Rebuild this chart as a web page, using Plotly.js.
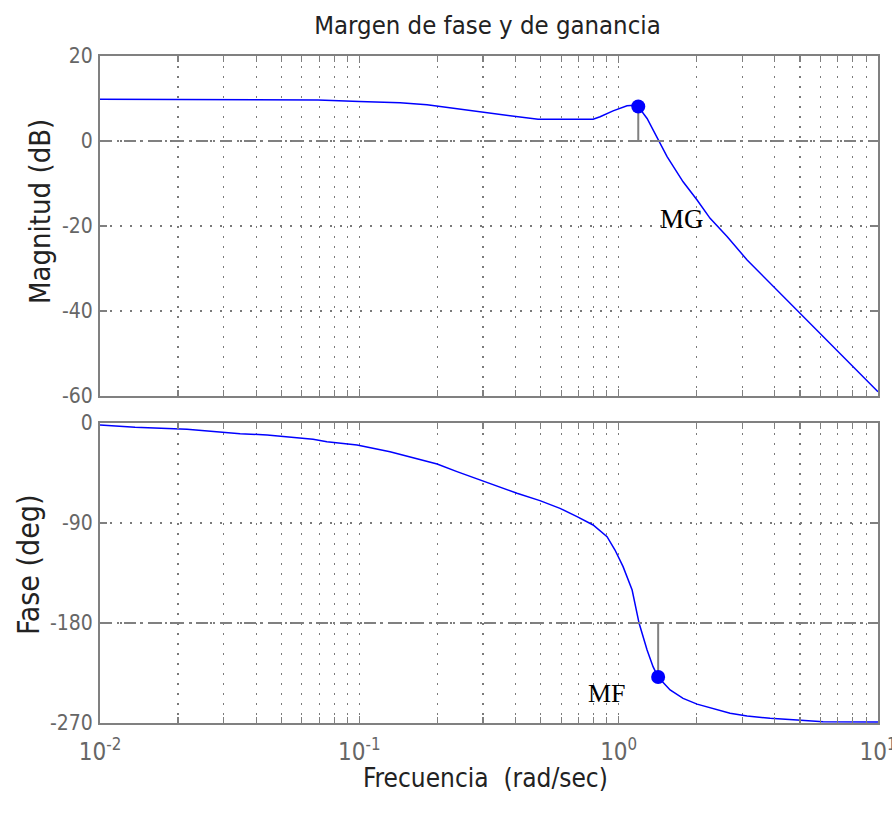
<!DOCTYPE html>
<html>
<head>
<meta charset="utf-8">
<script src="https://cdn.plot.ly/plotly-3.0.1.min.js"></script>
<style>html,body{margin:0;padding:0;background:#fff;}#plot{width:892px;height:816px;}</style>
</head>
<body>
<div id="plot"></div>
<script>
// ---- Data ----
const freqMag = [0.01, 0.04, 0.0693, 0.1, 0.1436, 0.1824, 0.218, 0.2445, 0.292, 0.3487, 0.3915, 0.4432, 0.489, 0.797, 0.848, 0.9515, 1.077, 1.15, 1.19, 1.287, 1.406, 1.537, 1.772, 2.006, 2.252, 2.618, 3.128, 5.008, 10];
const magDb   = [9.8, 9.75, 9.65, 9.3, 9.0, 8.5, 7.9, 7.45, 6.95, 6.35, 6.0, 5.6, 5.1, 5.1, 5.7, 7.1, 8.3, 8.4, 8.1, 5.3, 1.0, -3.7, -9.6, -13.9, -18.2, -22.5, -28, -40.5, -59];

const freqPh = [0.01, 0.01365, 0.02165, 0.0278, 0.0347, 0.0441, 0.0555, 0.0663, 0.075, 0.0843, 0.098, 0.1313, 0.176, 0.1995, 0.238, 0.292, 0.4055, 0.497, 0.594, 0.691, 0.797, 0.902, 0.968, 1.04, 1.127, 1.199, 1.287, 1.357, 1.419, 1.579, 1.772, 2.006, 2.312, 2.689, 3.128, 3.836, 4.875, 6.14, 10];
const phaseDeg = [-1.8, -3.9, -5.7, -7.8, -9.6, -10.8, -12.9, -14.7, -16.8, -18.3, -19.8, -25.8, -33.3, -36.9, -43.8, -51.3, -63.3, -69.9, -76.8, -84.3, -91.8, -102.3, -114.3, -129.3, -150.3, -180.3, -204.3, -219.3, -228.6, -240.3, -247.8, -253, -257, -261.3, -263.7, -265.8, -267.3, -268.8, -269];

const mgPoint = {freq: 1.19, mag: 8.1, ref: 0};
const mfPoint = {freq: 1.42, phase: -228.6, ref: -180};

const magTicks = [-60, -40, -20, 0, 20];
const magTickLabels = ['-60', '-40', '-20', '0', '20'];
const phaseTicks = [-270, -180, -90, 0];
const phaseTickLabels = ['-270', '-180', '-90', '0'];
const decades = [0.01, 0.1, 1, 10];
const decadeLabels = ['10<sup>-2</sup>', '10<sup>-1</sup>', '10<sup>0</sup>', '10<sup>1</sup>'];

const titleText = 'Margen de fase y de ganancia';
const magTitle = 'Magnitud (dB)';
const phaseTitle = 'Fase (deg)';
const freqTitle = 'Frecuencia\u00a0 (rad/sec)';
const mgLabel = {text: 'MG', freq: 1.756, mag: -18.3};
const mfLabel = {text: 'MF', freq: 0.902, phase: -243.9};

// ---- Minor log positions (2..9 of each decade) ----
const minorVals = [];
decades.slice(0, -1).forEach(d => { for (let k = 2; k <= 9; k++) minorVals.push(d * k); });

const FONT = '"DejaVu Sans Condensed", "Liberation Sans", sans-serif';
const GRAY = '#808080';
const GRIDC = '#7a7a7a';
const GRIDDASH = '2px,8px';
const BLUE = '#0000ff';

const traces = [
  {x: freqMag, y: magDb, xaxis: 'x', yaxis: 'y', mode: 'lines', line: {color: BLUE, width: 1.5}},
  {x: [mgPoint.freq, mgPoint.freq], y: [mgPoint.ref, mgPoint.mag], xaxis: 'x', yaxis: 'y', mode: 'lines', line: {color: GRAY, width: 2}},
  {x: [mgPoint.freq], y: [mgPoint.mag], xaxis: 'x', yaxis: 'y', mode: 'markers', marker: {color: BLUE, size: 14}},
  {x: freqPh, y: phaseDeg, xaxis: 'x2', yaxis: 'y2', mode: 'lines', line: {color: BLUE, width: 1.5}},
  {x: [mfPoint.freq, mfPoint.freq], y: [mfPoint.ref, mfPoint.phase], xaxis: 'x2', yaxis: 'y2', mode: 'lines', line: {color: GRAY, width: 2}},
  {x: [mfPoint.freq], y: [mfPoint.phase], xaxis: 'x2', yaxis: 'y2', mode: 'markers', marker: {color: BLUE, size: 14}}
];

const commonX = {
  type: 'log', range: [-2, 1], tickmode: 'array', tickvals: decades, ticktext: decadeLabels,
  ticks: 'inside', ticklen: 7, tickwidth: 1.5, tickcolor: GRAY,
  showline: true, linecolor: GRAY, linewidth: 2, mirror: 'ticks',
  showgrid: true, gridcolor: GRIDC, gridwidth: 1.2, griddash: GRIDDASH,
  minor: {tickmode: 'array', tickvals: minorVals, ticks: 'inside', ticklen: 6, tickwidth: 1.2, tickcolor: GRAY,
          showgrid: true, gridcolor: GRIDC, gridwidth: 1.2, griddash: GRIDDASH},
  zeroline: false, fixedrange: true, ticklabeloverflow: 'allow'
};
const commonY = {
  tickmode: 'array',
  ticks: 'inside', ticklen: 7, tickwidth: 1.5, tickcolor: GRAY,
  showline: true, linecolor: GRAY, linewidth: 2, mirror: 'ticks',
  showgrid: true, gridcolor: GRIDC, gridwidth: 1.2, griddash: GRIDDASH,
  zeroline: false, tickfont: {family: FONT, size: 21, color: '#666666'},
  ticklabelstandoff: 1
};

const layout = {
  width: 892, height: 816,
  margin: {l: 100, r: 14, t: 56, b: 93},
  paper_bgcolor: '#ffffff', plot_bgcolor: '#ffffff',
  showlegend: false,
  title: {text: titleText, font: {family: FONT, size: 25.5, color: '#222222'}, x: 0.5465, xanchor: 'center', y: 0.969, yanchor: 'middle'},
  xaxis: Object.assign({}, commonX, {anchor: 'y', showticklabels: false}),
  yaxis: Object.assign({}, commonY, {domain: [0.4903, 1], range: [-60, 20], tickvals: magTicks, ticktext: magTickLabels, anchor: 'x'}),
  xaxis2: Object.assign({}, commonX, {anchor: 'y2', showticklabels: true,
    tickfont: {family: FONT, size: 24, color: '#666666'}, ticklabelstandoff: 6}),
  yaxis2: Object.assign({}, commonY, {domain: [0, 0.4498], range: [-270, 0], tickvals: phaseTicks, ticktext: phaseTickLabels, anchor: 'x2'}),
  shapes: [
    {type: 'line', xref: 'x domain', yref: 'y', x0: 0, x1: 1, y0: 0, y1: 0, line: {color: GRAY, width: 2, dash: '12px,5px,2px,5px'}},
    {type: 'line', xref: 'x2 domain', yref: 'y2', x0: 0, x1: 1, y0: -180, y1: -180, line: {color: GRAY, width: 2, dash: '12px,5px,2px,5px'}}
  ],
  annotations: [
    {text: mgLabel.text, xref: 'x', yref: 'y', x: Math.log10(mgLabel.freq), y: mgLabel.mag, showarrow: false,
     font: {family: '"Liberation Serif", "Times New Roman", serif', size: 27, color: '#000000'}},
    {text: mfLabel.text, xref: 'x2', yref: 'y2', x: Math.log10(mfLabel.freq), y: mfLabel.phase, showarrow: false,
     font: {family: '"Liberation Serif", "Times New Roman", serif', size: 26, color: '#000000'}},
    {text: magTitle, xref: 'paper', yref: 'paper', x: (40 - 100) / 778, y: (723 - 212) / 667, textangle: -90, showarrow: false,
     xanchor: 'center', yanchor: 'middle', font: {family: FONT, size: 29, color: '#222222'}},
    {text: phaseTitle, xref: 'paper', yref: 'paper', x: (28 - 100) / 778, y: (723 - 565) / 667, textangle: -90, showarrow: false,
     xanchor: 'center', yanchor: 'middle', font: {family: FONT, size: 30, color: '#222222'}},
    {text: freqTitle, xref: 'paper', yref: 'paper', x: (485 - 100) / 778, y: (723 - 778) / 667, showarrow: false,
     xanchor: 'center', yanchor: 'middle', font: {family: FONT, size: 26, color: '#222222'}}
  ]
};

Plotly.newPlot('plot', traces, layout, {staticPlot: true, displayModeBar: false});
</script>
</body>
</html>
